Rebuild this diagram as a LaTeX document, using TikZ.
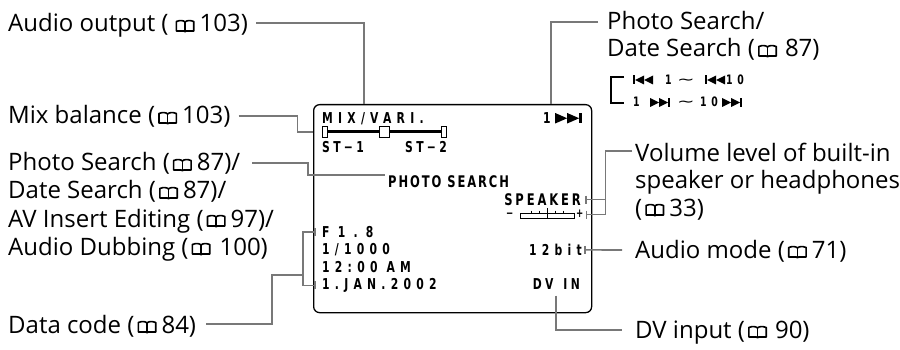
\documentclass[tikz,border=0pt]{standalone}
\usepackage{fontspec}
\usepackage{graphicx}
\setmainfont{Open Sans}
\newfontfamily\lcd{DejaVu Sans Bold}[FakeStretch=0.72,LetterSpace=35]
\newfontfamily\lcdw{DejaVu Sans Bold}[FakeStretch=0.72,LetterSpace=55]
\newfontfamily\lcdm{DejaVu Sans Bold}[FakeStretch=0.72,LetterSpace=22]
\newfontfamily\lcdn{DejaVu Sans Bold}[FakeStretch=0.72,LetterSpace=12]
\newfontfamily\lcdk{DejaVu Sans Bold}[FakeStretch=0.72,LetterSpace=18]
\newfontfamily\sym{DejaVu Sans}
\usetikzlibrary{calc}
\definecolor{cgray}{RGB}{120,120,120}
\newcommand\bk{\hspace{3pt}\tikz[baseline=0pt,x=1pt,y=1pt,line width=1.6pt,line join=round]{\draw (0.8,1) -- (0.8,10.5) .. controls (4.5,12) and (8,11.6) .. (9.5,10) .. controls (11,11.6) and (14.5,12) .. (18.2,10.5) -- (18.2,1) -- (10.6,1) -- (9.5,0.2) -- (8.4,1) -- cycle; \draw (9.5,10) -- (9.5,0.6);}\hspace{5pt}}
\newcommand\skf[3]{\tikz[baseline=0pt,x=1pt,y=1pt]{\fill (0,0) -- (#1,#2/2) -- (0,#2) -- cycle; \fill (#1,0) -- (2*#1,#2/2) -- (#1,#2) -- cycle; \fill (2*#1,0) rectangle (2*#1+#3,#2);}}
\newcommand\skb[3]{\tikz[baseline=0pt,x=1pt,y=1pt]{\fill (0,0) rectangle (#3,#2); \fill (#3+#1,0) -- (#3,#2/2) -- (#3+#1,#2) -- cycle; \fill (#3+2*#1,0) -- (#3+#1,#2/2) -- (#3+2*#1,#2) -- cycle;}}
\begin{document}
\begin{tikzpicture}[x=1pt,y=-1pt,
  lab/.style={font=\fontsize{24}{29}\selectfont, anchor=base west, inner sep=0pt},
  lcdt/.style={font=\lcd\fontsize{15}{18}\selectfont, anchor=base west, inner sep=0pt},
  lcds/.style={font=\lcd\fontsize{13}{16}\selectfont, anchor=base west, inner sep=0pt},
  lcdp/.style={font=\lcdn\fontsize{16}{19}\selectfont, anchor=base west, inner sep=0pt},
  pm/.style={font=\lcd\fontsize{12}{14}\selectfont, anchor=base west, inner sep=0pt, text height=5pt, text depth=0pt},
  icon/.style={anchor=base west, inner sep=0pt},
  conn/.style={draw=cgray, line width=1.6pt},
  screen/.style={draw, line width=1.3pt, rounded corners=6pt, minimum width=278pt, minimum height=208pt, inner sep=0pt, anchor=north west},
  slend/.style={draw, fill=white, line width=0.8pt, inner sep=0pt, minimum height=11pt}]
\fill[white] (0,0) rectangle (900,350);
\useasboundingbox (0,0) rectangle (900,350);

% left labels
\node[lab] (aout) at (8,32) {Audio output (\,\bk103)};
\node[lab] (mixb) at (8,124) {Mix balance (\bk103)};
\node[lab] (ps1) at (8,171) {Photo Search (\bk87)/};
\node[lab] (ps2) at (8,199) {Date Search (\bk87)/};
\node[lab] (ps3) at (8,227) {AV Insert Editing (\bk97)/};
\node[lab] (ps4) at (8,255) {Audio Dubbing (\bk\hspace{4pt}100)};
\node[lab] (dcode) at (8,333) {Data code (\bk84)};
% right labels
\node[lab] (rps1) at (607,30) {Photo Search/};
\node[lab] (rps2) at (607,57) {Date Search (\bk\hspace{3pt}87)};
\node[lab] (vol1) at (635,162) {Volume level of built-in};
\node[lab] (vol2) at (635,189) {speaker or headphones};
\node[lab] (vol3) at (635,216) {(\bk33)};
\node[lab] (amode) at (635,258) {Audio mode (\bk71)};
\node[lab] (dvinput) at (635,338) {DV input (\bk\hspace{3pt}90)};

% search symbols under right label
\draw[line width=1.4pt] (624,77) -- (611,77) -- (611,103) -- (624,103);
\node[icon] (r1a) at (633,84.5) {\skb{9}{9}{2}};
\node[lcds] (r1b) at (665,84.5) {1};
\node[icon] (r1c) at (677,84.5) {\sym\fontsize{14}{16}\selectfont\scalebox{1.5}[1]{∼}};
\node[icon] (r1d) at (705,84.5) {\skb{9}{9}{2}};
\node[lcds] (r1e) at (726,84.5) {10};
\node[lcds] (r2a) at (633,107) {1};
\node[icon] (r2b) at (650,107) {\skf{9}{9}{2}};
\node[icon] (r2c) at (677,107) {\sym\fontsize{14}{16}\selectfont\scalebox{1.5}[1]{∼}};
\node[lcds] (r2d) at (700,107) {10};
\node[icon] (r2e) at (722,107) {\skf{9}{9}{2}};

% screen
\node[screen] (scr) at (313,104) {};
\node[lcdt] (mix) at (322,123.5) {MIX/VARI.};
\node[lcdt] (one) at (543,123.5) {1};
\node[icon] (ffw) at (555,123.5) {\skf{12}{10.5}{3}};
\draw[line width=3pt] (327,132) -- (441,132);
\node[slend, minimum width=5pt] (slL) at (324.5,132) {};
\node[slend, minimum width=10pt] (slM) at (384,132) {};
\node[slend, minimum width=5pt] (slR) at (443.5,132) {};
\node[lcdt, font=\lcdm\fontsize{15}{18}\selectfont] (st1) at (322,152.5) {ST−1};
\node[lcdt, font=\lcdm\fontsize{15}{18}\selectfont] (st2) at (405,152.5) {ST−2};
\node[lcdp] (psearch) at (388,187) {PHOTO SEARCH};
\node[lcdp, font=\lcdk\fontsize{16}{19}\selectfont, anchor=base east] (spk) at (581,205.5) {SPEAKER};
\node[pm] (minus) at (506,217.5) {−};
\node[draw, line width=0.8pt, minimum width=54pt, minimum height=5pt, inner sep=0pt] (vbar) at (547,215.5) {};
\draw[line width=0.8pt] (547,208) -- (547,218) (531,210.5) -- (531,213) (539,210.5) -- (539,213) (555,210.5) -- (555,213) (563,210.5) -- (563,213);
\node[pm] (plus) at (576,218) {+};
\node[lcdt, anchor=base east] (bit) at (582,255.5) {12bit};
\node[lcdt, font=\lcdm\fontsize{15}{18}\selectfont, anchor=base east] (dv) at (580,289.5) {DV\hspace{3pt} IN};
\node[lcdt, font=\lcdw\fontsize{15}{18}\selectfont] (f18) at (322,237.5) {F1.8};
\node[lcdt] (sh) at (322,254.5) {1/1000};
\node[lcdt] (tm) at (322,272) {12:00 AM};
\node[lcdt] (jan) at (322,289.5) {1.JAN.2002};

% connectors
\draw[conn] ($(aout.base east)+(8,-9)$) -| ($(scr.north west)+(51,0)$);
\draw[conn] ($(mixb.base east)+(8,-8)$) -| ($(slL.west)+(-24,0)$) -- ($(slL.west)+(-9,0)$);
\draw[conn] ($(ps1.base east)+(12,-8)$) -| ($(psearch.west)+(-80,-6)$) |- ($(psearch.west)+(-3,-6)$);
\coordinate (dcb) at ($(f18.west)!0.5!(jan.west)+(-19,0)$);
\draw[conn] ($(dcode.base east)+(10,-9)$) -| ($(dcb)+(-31,16)$) -- ($(dcb)+(0,16)$);
\draw[conn] ($(f18.west)+(-7,0)$) -- ($(f18.west)+(-19,0)$) -- ($(jan.west)+(-19,0)$) -- ($(jan.west)+(-7,0)$);
\draw[conn] ($(f18.west)+(-7,-4)$) -- ++(0,8);
\draw[conn] ($(jan.west)+(-7,-4)$) -- ++(0,8);
\draw[conn] ($(rps1.base west)+(-9,-8)$) -| ($(scr.north west)+(238,0)$);
\coordinate (vA) at ($(spk.east)+(5,0)$);
\coordinate (vB) at ($(vbar.east)+(12,-1)$);
\draw[conn] ($(vol1.base west)+(-3,-11)$) -| ($(vB)+(19,0)$) -- (vB);
\draw[conn] (vA) -- ++(19,0);
\draw[conn] ($(vA)+(0,-4)$) -- ++(0,8);
\draw[conn] ($(vB)+(0,-4)$) -- ++(0,8);
\coordinate (aB) at ($(bit.east)+(3,0)$);
\draw[conn] ($(amode.base west)+(-13,-8)$) -- (aB);
\draw[conn] ($(aB)+(0,-4)$) -- ++(0,8);
\draw[conn] ($(dv.south)+(0,6)$) |- ($(dvinput.base west)+(-13,-8)$);
\end{tikzpicture}
\end{document}
